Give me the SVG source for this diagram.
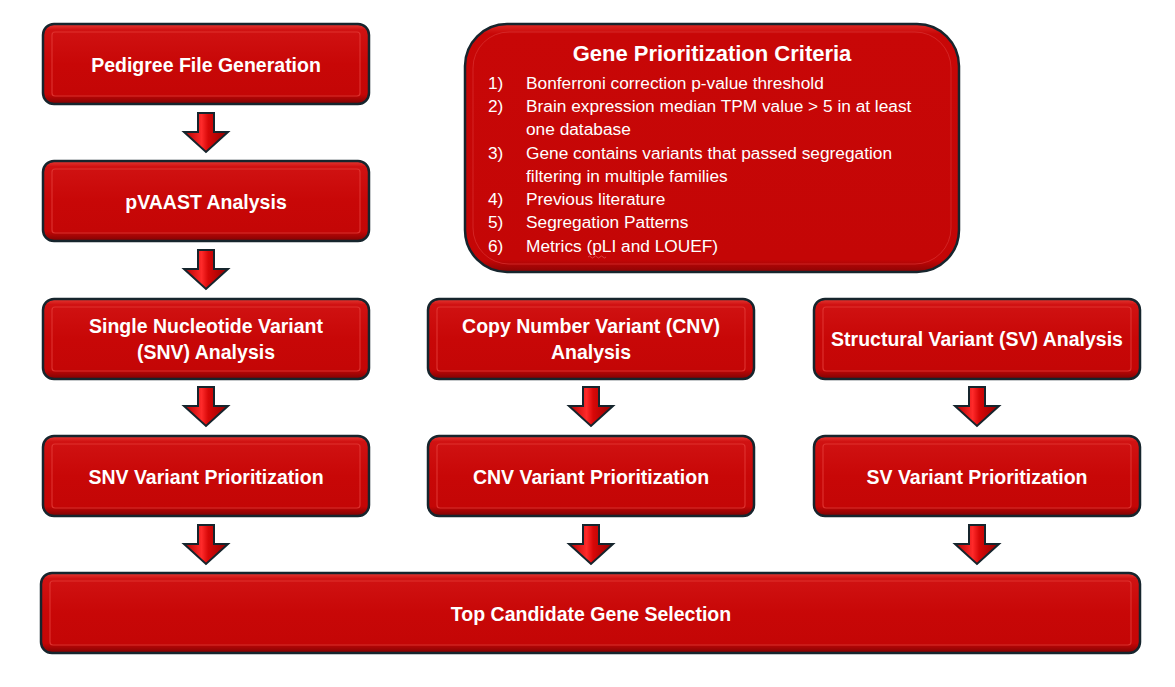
<svg xmlns="http://www.w3.org/2000/svg" width="1175" height="687" viewBox="0 0 1175 687">
<defs>
<linearGradient id="boxg" x1="0" y1="0" x2="0" y2="1">
<stop offset="0" stop-color="#e63a34"/>
<stop offset="0.07" stop-color="#d01212"/>
<stop offset="0.5" stop-color="#c80707"/>
<stop offset="0.88" stop-color="#c40606"/>
<stop offset="1" stop-color="#7e0303"/>
</linearGradient>
<linearGradient id="crig" x1="0" y1="0" x2="0" y2="1">
<stop offset="0" stop-color="#dd2a25"/>
<stop offset="0.04" stop-color="#c80707"/>
<stop offset="0.95" stop-color="#c40606"/>
<stop offset="1" stop-color="#8a0404"/>
</linearGradient>
<linearGradient id="arrg" x1="0" y1="0" x2="1" y2="0">
<stop offset="0" stop-color="#b00000"/>
<stop offset="0.4" stop-color="#ff2a2a"/>
<stop offset="0.55" stop-color="#d80808"/>
<stop offset="1" stop-color="#900000"/>
</linearGradient>
<path id="arr" d="M-8,0 H8 V19 H22 L0,39 L-22,19 H-8 Z"/>
</defs>
<style>
.box{fill:url(#boxg);stroke:#16252d;stroke-width:2.5}
.inner{fill:none;stroke:#e23a36;stroke-width:1.2;opacity:0.8}
.lbl{font-family:"Liberation Sans",Arial,sans-serif;font-weight:bold;font-size:19.5px;fill:#ffffff;text-anchor:middle}
.crit{font-family:"Liberation Sans",Arial,sans-serif;font-size:17.3px;fill:#ffffff}
.ctitle{font-family:"Liberation Sans",Arial,sans-serif;font-weight:bold;font-size:22px;fill:#ffffff;text-anchor:middle}
.ar{fill:url(#arrg);stroke:#16252d;stroke-width:2;stroke-linejoin:miter}
</style>
<rect width="1175" height="687" fill="#ffffff"/>

<g id="connectors">
<use href="#arr" class="ar" x="206" y="113"/>
<use href="#arr" class="ar" x="206" y="250"/>
<use href="#arr" class="ar" x="206" y="387"/>
<use href="#arr" class="ar" x="591" y="387"/>
<use href="#arr" class="ar" x="977" y="387"/>
<use href="#arr" class="ar" x="206" y="525"/>
<use href="#arr" class="ar" x="591" y="525"/>
<use href="#arr" class="ar" x="977" y="525"/>
</g>

<g id="pedigree">
<rect class="box" x="43" y="24" width="326" height="80" rx="11"/>
<rect class="inner" x="52" y="32" width="308" height="64" rx="3"/>
<text class="lbl" x="206" y="72">Pedigree File Generation</text>
</g>

<g id="pvaast">
<rect class="box" x="43" y="161" width="326" height="80" rx="11"/>
<rect class="inner" x="52" y="169" width="308" height="64" rx="3"/>
<text class="lbl" x="206" y="209">pVAAST Analysis</text>
</g>

<g id="snv-analysis">
<rect class="box" x="43" y="299" width="326" height="80" rx="11"/>
<rect class="inner" x="52" y="307" width="308" height="64" rx="3"/>
<text class="lbl" x="206" y="333">Single Nucleotide Variant</text>
<text class="lbl" x="206" y="359">(SNV) Analysis</text>
</g>

<g id="cnv-analysis">
<rect class="box" x="428" y="299" width="326" height="80" rx="11"/>
<rect class="inner" x="437" y="307" width="308" height="64" rx="3"/>
<text class="lbl" x="591" y="333">Copy Number Variant (CNV)</text>
<text class="lbl" x="591" y="359">Analysis</text>
</g>

<g id="sv-analysis">
<rect class="box" x="814" y="299" width="326" height="80" rx="11"/>
<rect class="inner" x="823" y="307" width="308" height="64" rx="3"/>
<text class="lbl" x="977" y="346">Structural Variant (SV) Analysis</text>
</g>

<g id="snv-prior">
<rect class="box" x="43" y="436" width="326" height="80" rx="11"/>
<rect class="inner" x="52" y="444" width="308" height="64" rx="3"/>
<text class="lbl" x="206" y="484">SNV Variant Prioritization</text>
</g>

<g id="cnv-prior">
<rect class="box" x="428" y="436" width="326" height="80" rx="11"/>
<rect class="inner" x="437" y="444" width="308" height="64" rx="3"/>
<text class="lbl" x="591" y="484">CNV Variant Prioritization</text>
</g>

<g id="sv-prior">
<rect class="box" x="814" y="436" width="326" height="80" rx="11"/>
<rect class="inner" x="823" y="444" width="308" height="64" rx="3"/>
<text class="lbl" x="977" y="484">SV Variant Prioritization</text>
</g>

<g id="top-candidate">
<rect class="box" x="41" y="573" width="1099" height="80" rx="11"/>
<rect class="inner" x="50" y="581" width="1081" height="64" rx="3"/>
<text class="lbl" x="591" y="621">Top Candidate Gene Selection</text>
</g>

<g id="criteria">
<rect x="465" y="24" width="494" height="248" rx="42" fill="url(#crig)" stroke="#16252d" stroke-width="2.5"/>
<rect x="473" y="32" width="478" height="232" rx="36" fill="none" stroke="#d83030" stroke-width="1" opacity="0.7"/>
<text class="ctitle" x="712" y="61">Gene Prioritization Criteria</text>
<text class="crit" x="488" y="89">1)</text><text class="crit" x="526" y="89">Bonferroni correction p-value threshold</text>
<text class="crit" x="488" y="112">2)</text><text class="crit" x="526" y="112">Brain expression median TPM value &gt; 5 in at least</text>
<text class="crit" x="526" y="135">one database</text>
<text class="crit" x="488" y="159">3)</text><text class="crit" x="526" y="159">Gene contains variants that passed segregation</text>
<text class="crit" x="526" y="182">filtering in multiple families</text>
<text class="crit" x="488" y="205">4)</text><text class="crit" x="526" y="205">Previous literature</text>
<text class="crit" x="488" y="228">5)</text><text class="crit" x="526" y="228">Segregation Patterns</text>
<text class="crit" x="488" y="252">6)</text><text class="crit" x="526" y="252">Metrics (pLI and LOUEF)</text>
<path d="M588,257 q1.5,-2 3,0 t3,0 t3,0 t3,0 t3,0 t3,0" fill="none" stroke="#e05050" stroke-width="0.8"/>
</g>
</svg>
